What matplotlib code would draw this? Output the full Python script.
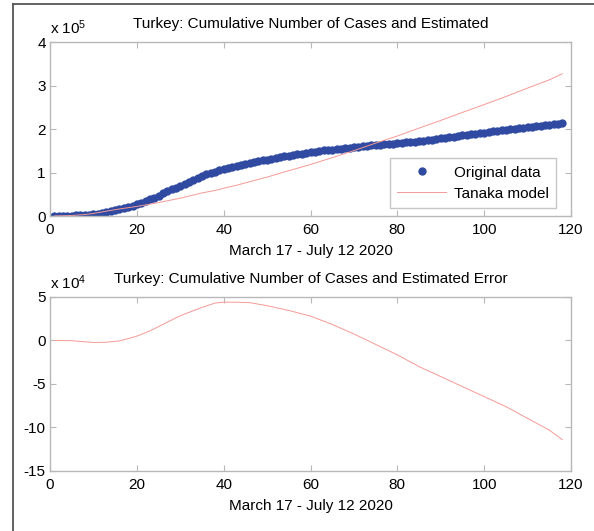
import numpy as np
import matplotlib
matplotlib.use("Agg")
import matplotlib.pyplot as plt
from matplotlib.lines import Line2D
from matplotlib.ticker import FuncFormatter

plt.rcParams['font.family'] = ['Liberation Sans', 'DejaVu Sans']
plt.rcParams['mathtext.default'] = 'regular'
plt.rcParams['axes.unicode_minus'] = False

# Turkey cumulative cases, day 1 = March 17 ... day 118 = July 12 2020
cases = [
    98, 191, 359, 670, 947, 1236, 1529, 1872, 2433, 3629,
    5698, 7402, 9217, 10827, 13531, 15679, 18135, 20921, 23934, 27069,
    30217, 34109, 38226, 42282, 47029, 52167, 56956, 61049, 65111, 69392,
    74193, 78546, 82329, 86306, 90980, 95591, 98674, 101790, 104912, 107773,
    110130, 112261, 114653, 117589, 120204, 122392, 124375, 126045, 127659, 129491,
    131744, 133721, 135569, 137115, 138657, 139771, 141475, 143114, 144749, 146457,
    148067, 149435, 150593, 151615, 152587, 153548, 154500, 155686, 156827, 157814,
    158762, 159797, 160979, 162120, 163103, 163942, 164769, 165555, 166422, 167410,
    168340, 169218, 170132, 171121, 172114, 173036, 174023, 175218, 176677, 178239,
    179831, 181298, 182727, 184031, 185245, 186493, 187685, 188897, 190165, 191657,
    193115, 194511, 195883, 197239, 198613, 199906, 201098, 202284, 203456, 204610,
    205758, 206844, 207897, 208938, 209962, 210965, 211981, 212993,
]
days = np.arange(1, len(cases) + 1)

# Tanaka model curve, read at sample days
model_days = [1, 5, 8, 10, 13, 16, 20, 23, 25, 30, 35, 38, 40, 43, 46, 50, 55, 60,
              65, 70, 75, 80, 85, 90, 95, 100, 105, 110, 115, 118]
model_vals = [100, 1150, 3400, 5900, 11200, 16200, 22100, 27200, 31000, 40900,
              53000, 58800, 63800, 70700, 78900, 89500, 104200, 118500, 134100,
              150300, 167600, 183900, 202100, 219700, 238200, 256200, 274600,
              294100, 313000, 327000]

# estimated error (data - model), read at the same sample days
err_vals = [0, -200, -1500, -2300, -2000, -500, 5000, 11000, 16000, 28500,
            38000, 43000, 44000, 44000, 43500, 40000, 34500, 28000, 18500,
            7500, -4500, -16500, -30000, -41500, -53000, -64500, -76000,
            -89500, -103000, -114000]

blue = '#2f4aa0'
red = '#f59a95'
spine_c = '#b8b8b8'
fs = 11

fig = plt.figure(figsize=(5.94, 5.31), dpi=100)
ax1 = fig.add_axes([0.0842, 0.5932, 0.8771, 0.3277])
ax2 = fig.add_axes([0.0842, 0.1130, 0.8771, 0.3277])


def style(ax):
    for s in ax.spines.values():
        s.set_color(spine_c)
        s.set_linewidth(1.0)
    ax.tick_params(direction='in', length=4, width=0.8, color=spine_c,
                   top=True, right=True, labelsize=fs, labelcolor='black')
    ax.tick_params(axis='x', pad=5)
    ax.tick_params(axis='y', pad=3)
    ax.set_xlim(0, 120)
    ax.set_xticks(range(0, 121, 20))
    ax.set_xlabel('March 17 - July 12 2020', fontsize=fs, labelpad=5)


ax1.plot(days, cases, 'o', color=blue, markersize=6, markeredgewidth=0,
         label='Original data')
ax1.plot(model_days, model_vals, '-', color=red, linewidth=0.7, label='Tanaka model')
style(ax1)
ax1.set_ylim(0, 4e5)
ax1.set_yticks(np.arange(0, 4.01e5, 1e5))
ax1.yaxis.set_major_formatter(FuncFormatter(lambda v, p: f'{v / 1e5:g}'))
ax1.set_title('Turkey: Cumulative Number of Cases and Estimated', fontsize=fs, pad=10)
ax1.text(0, 1.03, r'x 10$^5$', transform=ax1.transAxes, fontsize=fs,
         ha='left', va='bottom')
leg = ax1.legend(loc='lower right', bbox_to_anchor=(0.972, 0.045), fontsize=fs,
                 frameon=True, fancybox=False, handlelength=3.2,
                 borderpad=0.5, labelspacing=0.45, handletextpad=0.5,
                 borderaxespad=0)
leg.get_frame().set_edgecolor(spine_c)
leg.get_frame().set_linewidth(1.0)

ax2.plot(model_days, err_vals, '-', color=red, linewidth=0.7)
style(ax2)
ax2.set_ylim(-15e4, 5e4)
ax2.set_yticks(np.arange(-15e4, 5.01e4, 5e4))
ax2.yaxis.set_major_formatter(FuncFormatter(lambda v, p: f'{v / 1e4:g}'))
ax2.set_title('Turkey: Cumulative Number of Cases and Estimated Error', fontsize=fs, pad=10)
ax2.text(0, 1.03, r'x 10$^4$', transform=ax2.transAxes, fontsize=fs,
         ha='left', va='bottom')

# outer frame (partially cropped)
fig.add_artist(Line2D([13 / 594, 1.0], [1 - 4 / 531, 1 - 4 / 531],
                      transform=fig.transFigure, color='#555555', linewidth=1.3))
fig.add_artist(Line2D([13 / 594, 13 / 594], [0, 1 - 4 / 531],
                      transform=fig.transFigure, color='#555555', linewidth=1.3))

fig.savefig('out.png', dpi=100)
